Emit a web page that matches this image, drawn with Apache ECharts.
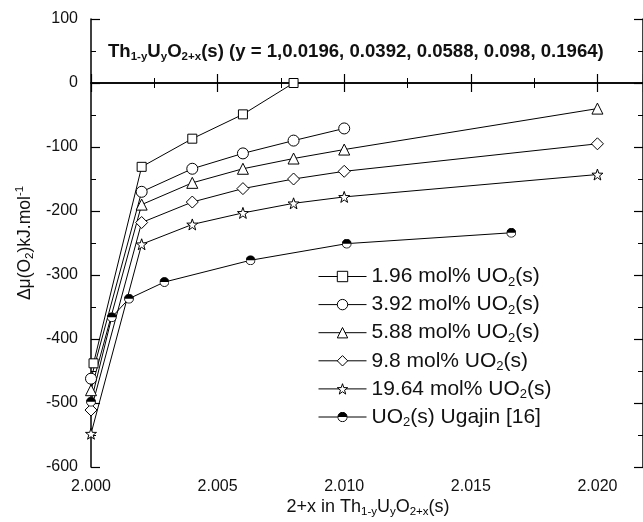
<!DOCTYPE html>
<html>
<head>
<meta charset="utf-8">
<script src="https://cdn.jsdelivr.net/npm/echarts@6/dist/echarts.min.js"></script>
<style>
  html, body { margin: 0; padding: 0; background: #fff; }
  #chart { width: 643px; height: 522px; }
</style>
</head>
<body>
<div id="chart"></div>
<script>
// data: [2+x, delta mu(O2) kJ/mol]
const seriesNames = [
  '1.96 mol% UO2(s)',
  '3.92 mol% UO2(s)',
  '5.88 mol% UO2(s)',
  '9.8 mol% UO2(s)',
  '19.64 mol% UO2(s)',
  'UO2(s) Ugajin [16]'
]
const u196 = [[2.0001, -438], [2.002, -131], [2.004, -87], [2.006, -49], [2.008, 0]]
const u392 = [[2.000, -462], [2.002, -170], [2.004, -134], [2.006, -110], [2.008, -90], [2.010, -71]]
const u588 = [[2.000, -480], [2.002, -190], [2.004, -156], [2.006, -134], [2.008, -118], [2.010, -104], [2.020, -40]]
const u98 = [[2.000, -511], [2.002, -218], [2.004, -186], [2.006, -165], [2.008, -150], [2.010, -138], [2.020, -95]]
const u1964 = [[2.000, -548], [2.002, -252], [2.004, -221], [2.006, -203], [2.008, -188], [2.010, -178], [2.020, -143]]
const ugajin = [[2.000, -498], [2.00082, -366], [2.0015, -337], [2.0029, -311], [2.0063, -277], [2.0101, -251], [2.0166, -234]]

const xTicks = [2.000, 2.005, 2.010, 2.015, 2.020]
const yTicks = [100, 0, -100, -200, -300, -400, -500, -600]

const starPath = 'path://M0,-10L2.35,-3.24L9.51,-3.09L3.8,1.24L5.88,8.09L0,4L-5.88,8.09L-3.8,1.24L-9.51,-3.09L-2.35,-3.24Z'
const halfCircleSvg = "<svg xmlns='http://www.w3.org/2000/svg' width='24' height='24' viewBox='0 0 24 24'>" +
  "<circle cx='12' cy='12' r='10.8' fill='white' stroke='black' stroke-width='2.2'/>" +
  "<path d='M1.2 12 A10.8 10.8 0 0 1 22.8 12 Z' fill='black'/></svg>"
const halfCircle = 'image://data:image/svg+xml;charset=utf-8,' + encodeURIComponent(halfCircleSvg)

const FONT = 'Liberation Sans'
const INK = '#111'

const chart = echarts.init(document.getElementById('chart'))

function makeSeries(name, data, symbol, size) {
  return {
    name: name,
    type: 'line',
    data: data,
    symbol: symbol,
    symbolSize: size,
    lineStyle: { color: '#000', width: 1 },
    itemStyle: { color: '#fff', borderColor: '#000', borderWidth: 1 },
    emphasis: { disabled: true },
    animation: false,
    z: 3
  }
}

const subStyle = { fontSize: 11.5, fontFamily: FONT, color: INK, padding: [10, 0, 0, 0] }

const option = {
  backgroundColor: '#fff',
  animation: false,
  grid: { left: 91, right: 0, top: 19, bottom: 55 },
  xAxis: [
    {
      type: 'value',
      min: 2.000,
      max: 2.0218,
      interval: 0.005,
      axisLine: { lineStyle: { color: '#000', width: 1.5 } },
      axisTick: { inside: true, length: 9, lineStyle: { color: '#000', width: 1.2 } },
      minorTick: { show: true, splitNumber: 2, length: 5, lineStyle: { color: '#000', width: 1 } },
      splitLine: { show: false },
      axisLabel: {
        margin: 12,
        fontSize: 16,
        fontFamily: FONT,
        color: INK,
        showMaxLabel: false,
        formatter: function (v) {
          const hit = xTicks.find(t => Math.abs(t - v) < 1e-7)
          return hit === undefined ? '' : hit.toFixed(3)
        }
      }
    },
    {
      type: 'value',
      position: 'top',
      min: 2.000,
      max: 2.0218,
      interval: 0.005,
      axisLine: { lineStyle: { color: '#000', width: 1.5 } },
      axisTick: { inside: true, length: 9, lineStyle: { color: '#000', width: 1.2 } },
      minorTick: { show: true, splitNumber: 2, length: 5, lineStyle: { color: '#000', width: 1 } },
      splitLine: { show: false },
      axisLabel: { show: false }
    }
  ],
  yAxis: [
    {
      type: 'value',
      min: -600,
      max: 100,
      interval: 100,
      axisLine: { show: true, lineStyle: { color: '#000', width: 1.5 } },
      axisTick: { show: true, inside: true, length: 9, lineStyle: { color: '#000', width: 1.2 } },
      minorTick: { show: true, splitNumber: 2, length: 5, lineStyle: { color: '#000', width: 1 } },
      splitLine: { show: false },
      axisLabel: {
        margin: 13,
        fontSize: 16,
        fontFamily: FONT,
        color: INK,
        formatter: function (v) {
          return yTicks.indexOf(v) >= 0 ? String(v) : ''
        }
      }
    },
    {
      type: 'value',
      position: 'right',
      min: -600,
      max: 100,
      interval: 100,
      axisLine: { show: true, lineStyle: { color: '#000', width: 1.5 } },
      axisTick: { show: true, inside: true, length: 9, lineStyle: { color: '#000', width: 1.2 } },
      minorTick: { show: true, splitNumber: 2, length: 5, lineStyle: { color: '#000', width: 1 } },
      splitLine: { show: false },
      axisLabel: { show: false }
    }
  ],
  legend: {
    orient: 'vertical',
    left: 313,
    top: 261,
    itemWidth: 48,
    itemHeight: 13,
    itemGap: 5.6,
    selectedMode: false,
    data: seriesNames,
    lineStyle: { width: 1, color: '#000' },
    itemStyle: { borderWidth: 1, borderColor: '#000', color: '#fff' },
    textStyle: {
      rich: {
        a: { fontSize: 21, fontFamily: FONT, color: INK, lineHeight: 24 },
        s: { fontSize: 13, fontFamily: FONT, color: INK, padding: [11, 0, 0, 0] }
      }
    },
    formatter: function (name) {
      const parts = name.split('UO2')
      let out = ''
      if (parts[0]) out += '{a|' + parts[0] + '}'
      out += '{a|UO}{s|2}'
      if (parts[1]) out += '{a|' + parts[1] + '}'
      return out
    }
  },
  graphic: [
    {
      type: 'text',
      x: 108,
      y: 52,
      z: 10,
      style: {
        text: '{b|Th}{bs|1-y}{b|U}{bs|y}{b|O}{bs|2+x}{b|(s) (y = 1,0.0196, 0.0392, 0.0588, 0.098, 0.1964)}',
        align: 'left',
        verticalAlign: 'middle',
        rich: {
          b: { fontSize: 18.6, fontWeight: 'bold', fontFamily: FONT, fill: INK },
          bs: { fontSize: 11.5, fontWeight: 'bold', fontFamily: FONT, fill: INK, padding: [10, 0, 0, 0] }
        }
      }
    },
    {
      type: 'text',
      x: 368,
      y: 507,
      style: {
        text: '{a|2+x in Th}{s|1-y}{a|U}{s|y}{a|O}{s|2+x}{a|(s)}',
        align: 'center',
        verticalAlign: 'middle',
        rich: {
          a: { fontSize: 18, fontFamily: FONT, fill: INK },
          s: subStyle
        }
      }
    },
    {
      type: 'text',
      x: 25,
      y: 243,
      rotation: Math.PI / 2,
      style: {
        text: '{a|\u0394\u03bc(O}{s|2}{a|)kJ.mol}{p|-1}',
        align: 'center',
        verticalAlign: 'middle',
        rich: {
          a: { fontSize: 17.5, fontFamily: FONT, fill: INK },
          s: subStyle,
          p: { fontSize: 11.5, fontFamily: FONT, fill: INK, padding: [0, 0, 10, 0] }
        }
      }
    }
  ],
  series: [
    makeSeries(seriesNames[0], u196, 'rect', 9),
    makeSeries(seriesNames[1], u392, 'circle', 11),
    makeSeries(seriesNames[2], u588, 'triangle', 11),
    makeSeries(seriesNames[3], u98, 'diamond', 12),
    makeSeries(seriesNames[4], u1964, starPath, 11),
    makeSeries(seriesNames[5], ugajin, halfCircle, 10)
  ]
}

chart.setOption(option)
</script>
</body>
</html>
